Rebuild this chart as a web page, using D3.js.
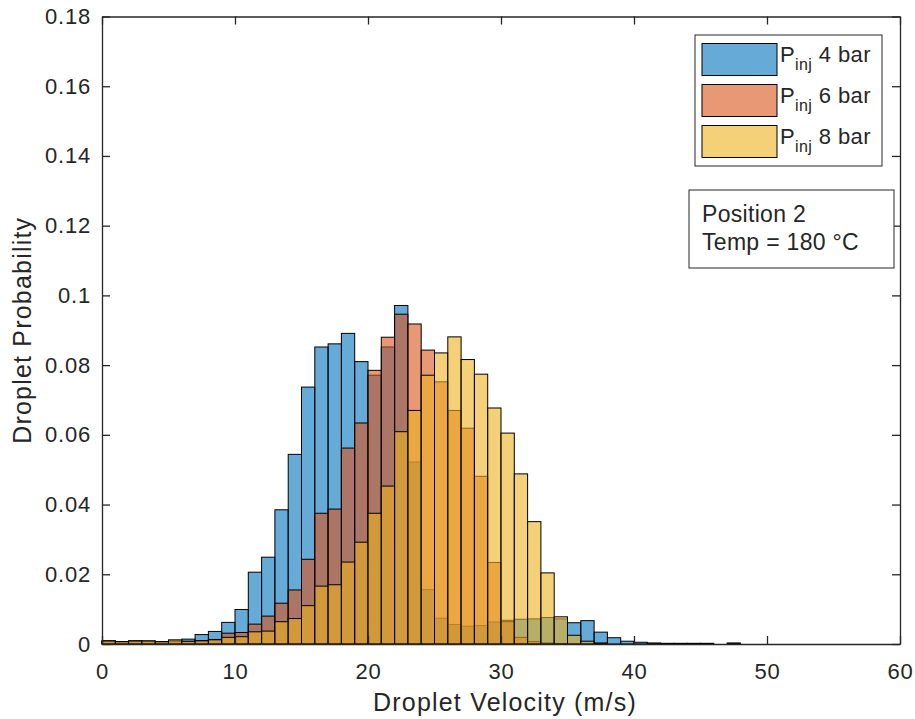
<!DOCTYPE html>
<html>
<head>
<meta charset="utf-8">
<script src="https://cdn.jsdelivr.net/npm/d3@7"></script>
<style>
  body { margin: 0; background: #fff; }
  svg text { font-family: "Liberation Sans", Arial, sans-serif; fill: #262626; }
</style>
</head>
<body>
<svg id="chart" width="915" height="719"></svg>
<script>
// probability per 1 m/s bin, bins start at 0
const p4bar = [
  0.0009, 0.0007, 0.0009, 0.0008, 0.0006, 0.0009, 0.0014, 0.0027, 0.0036, 0.0062,
  0.0099, 0.0206, 0.0249, 0.0385, 0.0544, 0.0737, 0.0852, 0.0861, 0.0891, 0.0810,
  0.0771, 0.0852, 0.0971, 0.0522, 0.0156, 0.0074, 0.0056, 0.0051, 0.0053, 0.0063,
  0.0068, 0.0071, 0.0072, 0.0076, 0.0072, 0.0061, 0.0067, 0.0034, 0.0018, 0.0008,
  0.0005, 0.0003, 0.0002, 0.0002, 0.0002, 0.0002, 0, 0.0003
];
const p6bar = [
  0.0008, 0.0006, 0.0008, 0.0008, 0.0006, 0.0008, 0.0007, 0.0010, 0.0013, 0.0031,
  0.0033, 0.0057, 0.0080, 0.0117, 0.0155, 0.0243, 0.0375, 0.0387, 0.0562, 0.0634,
  0.0785, 0.0880, 0.0946, 0.0918, 0.0843, 0.0752, 0.0670, 0.0619, 0.0481, 0.0234,
  0.0064, 0.0019, 0.0007, 0.0003, 0.0001
];
const p8bar = [
  0.0009, 0.0007, 0.0009, 0.0009, 0.0007, 0.0012, 0.0008, 0.0009, 0.0012, 0.0019,
  0.0021, 0.0035, 0.0037, 0.0064, 0.0073, 0.0110, 0.0166, 0.0170, 0.0235, 0.0292,
  0.0375, 0.0453, 0.0609, 0.0670, 0.0771, 0.0835, 0.0881, 0.0816, 0.0774, 0.0677,
  0.0605, 0.0488, 0.0351, 0.0204, 0.0078, 0.0025, 0.0008, 0.0003
];
const seriesNames = ["4 bar", "6 bar", "8 bar"];
const seriesColors = ["rgb(0,114,189)", "rgb(217,83,25)", "rgb(237,177,32)"];
const xTicks = [0, 10, 20, 30, 40, 50, 60];
const yTicks = [0, 0.02, 0.04, 0.06, 0.08, 0.1, 0.12, 0.14, 0.16, 0.18];
const infoLines = ["Position 2", "Temp = 180 \u00B0C"];

const svg = d3.select("#chart");
const plotLeft = 102, plotRight = 900, plotTop = 16.5, plotBottom = 644;

const x = d3.scaleLinear().domain([0, 60]).range([plotLeft, plotRight]);
const y = d3.scaleLinear().domain([0, 0.18]).range([plotBottom, plotTop]);

// histogram bars, later series drawn over earlier ones
[p4bar, p6bar, p8bar].forEach((vals, s) => {
  const bins = vals.map((v, i) => ({ x0: i, x1: i + 1, v })).filter(d => d.v > 0);
  svg.append("g")
    .selectAll("rect")
    .data(bins)
    .join("rect")
    .attr("x", d => x(d.x0))
    .attr("width", d => x(d.x1) - x(d.x0))
    .attr("y", d => y(d.v))
    .attr("height", d => y(0) - y(d.v))
    .attr("fill", seriesColors[s])
    .attr("fill-opacity", 0.6)
    .attr("stroke", "#000")
    .attr("stroke-width", 1);
});

// axes (box with inward ticks)
const fmt = d => d === 0 ? "0" : String(+d.toFixed(2));
const styleAxis = g => {
  g.select(".domain").attr("stroke", "#262626").attr("stroke-width", 1.3);
  g.selectAll(".tick line").attr("stroke", "#262626").attr("stroke-width", 1.3);
  g.selectAll(".tick text").attr("fill", "#262626")
    .style("font-size", "22px")
    .style("letter-spacing", "0.8px")
    .style("font-family", "'Liberation Sans', Arial, sans-serif");
};

svg.append("g")
  .attr("transform", `translate(0,${plotBottom})`)
  .call(d3.axisBottom(x).tickValues(xTicks).tickSizeInner(-8).tickSizeOuter(0).tickPadding(19).tickFormat(fmt))
  .call(styleAxis);
svg.append("g")
  .attr("transform", `translate(0,${plotTop})`)
  .call(d3.axisTop(x).tickValues(xTicks).tickSizeInner(-8).tickSizeOuter(0).tickFormat(""))
  .call(styleAxis);
svg.append("g")
  .attr("transform", `translate(${plotLeft},0)`)
  .call(d3.axisLeft(y).tickValues(yTicks).tickSizeInner(-8).tickSizeOuter(0).tickPadding(11).tickFormat(fmt))
  .call(styleAxis);
svg.append("g")
  .attr("transform", `translate(${plotRight},0)`)
  .call(d3.axisRight(y).tickValues(yTicks).tickSizeInner(-8).tickSizeOuter(0).tickFormat(""))
  .call(styleAxis);

// axis titles
svg.append("text")
  .attr("x", (plotLeft + plotRight) / 2 + 4)
  .attr("y", 711)
  .attr("text-anchor", "middle")
  .style("font-size", "25px")
  .style("letter-spacing", "1.2px")
  .text("Droplet Velocity (m/s)");
svg.append("text")
  .attr("transform", `translate(31,${(plotTop + plotBottom) / 2}) rotate(-90)`)
  .attr("text-anchor", "middle")
  .style("font-size", "25px")
  .style("letter-spacing", "1.2px")
  .text("Droplet Probability");

// legend
const legend = svg.append("g");
legend.append("rect")
  .attr("x", 695).attr("y", 35).attr("width", 187).attr("height", 131)
  .attr("fill", "#fff").attr("stroke", "#262626").attr("stroke-width", 1);
seriesNames.forEach((name, i) => {
  const ry = 43.5 + i * 41;
  legend.append("rect")
    .attr("x", 702).attr("y", ry).attr("width", 75).attr("height", 32)
    .attr("fill", seriesColors[i]).attr("fill-opacity", 0.6)
    .attr("stroke", "#000").attr("stroke-width", 1);
  const t = legend.append("text")
    .attr("x", 780).attr("y", ry + 18)
    .style("font-size", "22px")
    .style("letter-spacing", "0.4px");
  t.append("tspan").text("P");
  t.append("tspan").attr("dy", 8).style("font-size", "16px").text("inj");
  t.append("tspan").attr("dy", -8).text(" " + name);
});

// info box
const info = svg.append("g");
info.append("rect")
  .attr("x", 689).attr("y", 190).attr("width", 205).attr("height", 78)
  .attr("fill", "#fff").attr("stroke", "#262626").attr("stroke-width", 1);
infoLines.forEach((line, i) => {
  info.append("text")
    .attr("x", 702).attr("y", 222 + i * 28)
    .style("font-size", "23px")
    .style("letter-spacing", "0.3px")
    .text(line);
});
</script>
</body>
</html>
